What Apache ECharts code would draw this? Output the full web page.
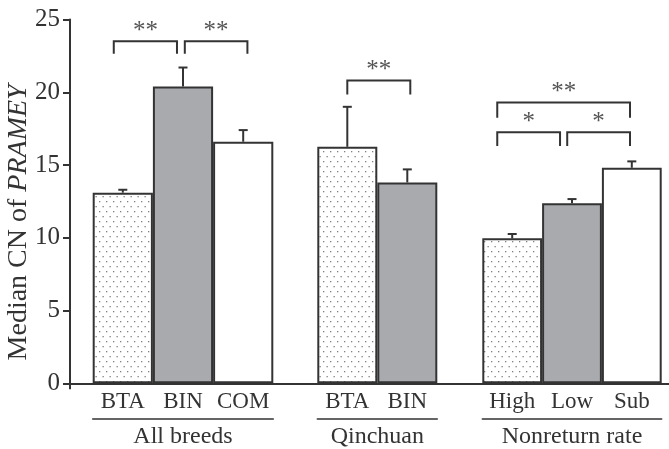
<!DOCTYPE html>
<html>
<head>
<meta charset="utf-8">
<script src="https://cdn.jsdelivr.net/npm/echarts@6/dist/echarts.min.js"></script>
<style>
  html, body { margin: 0; padding: 0; background: #fff; }
  #chart { width: 669px; height: 449px; }
</style>
</head>
<body>
<div id="chart"></div>
<script>
// data
const groupNames = ["All breeds", "Qinchuan", "Nonreturn rate"];
const allCats = ["BTA", "BIN", "COM"];
const allVals = [13.1, 20.4, 16.6];
const allErr = [0.2, 1.3, 0.8];
const qinCats = ["BTA", "BIN"];
const qinVals = [16.25, 13.8];
const qinErr = [2.75, 0.9];
const nrCats = ["High", "Low", "Sub"];
const nrVals = [9.96, 12.38, 14.81];
const nrErr = [0.3, 0.28, 0.44];
const yTicks = [0, 5, 10, 15, 20, 25];
// significance brackets: [from, to, top, legEnd, label] (category positions)
const allBrackets = [[-0.15, 0.9, 23.5, 22.65, "**"], [1.03, 2.07, 23.5, 22.65, "**"]];
const qinBrackets = [[0, 1.05, 20.8, 19.85, "**"]];
const nrBrackets = [
  [-0.25, 1.97, 19.3, 18.25, "**"],
  [-0.25, 0.8, 17.25, 16.3, "*"],
  [0.92, 1.97, 17.25, 16.3, "*"]
];

const serif = "'Liberation Serif', 'DejaVu Serif', serif";
const ink = "#333";

// dotted fill
const dot = document.createElement("canvas");
dot.width = 7;
dot.height = 10;
const g = dot.getContext("2d");
g.fillStyle = "#fff";
g.fillRect(0, 0, 7, 10);
g.fillStyle = "#808080";
g.fillRect(1, 1, 1.3, 1.3);
g.fillRect(4.5, 6, 1.3, 1.3);

const fills = {
  dot: { image: dot, repeat: "repeat" },
  gray: "#a9aaad",
  white: "#fff"
};
const groups = [
  { cats: allCats, vals: allVals, err: allErr, kind: ["dot", "gray", "white"], br: allBrackets, left: 92.7, width: 180.6 },
  { cats: qinCats, vals: qinVals, err: qinErr, kind: ["dot", "gray"], br: qinBrackets, left: 317.3, width: 120 },
  { cats: nrCats, vals: nrVals, err: nrErr, kind: ["dot", "gray", "white"], br: nrBrackets, left: 482.3, width: 179.4 }
];

const gTop = 19.5, gBottom = 65.7;
const grid = [{ left: 70, right: 0, top: gTop, bottom: gBottom, outerBoundsMode: "none", containLabel: false }];
const xAxis = [{
  gridIndex: 0, type: "value", min: 0, max: 1,
  axisLine: { show: true, lineStyle: { color: ink, width: 2 } },
  axisTick: { show: true, customValues: [0], length: 6, lineStyle: { color: ink, width: 2 } },
  axisLabel: { show: false }, splitLine: { show: false }
}];
const yAxis = [{
  gridIndex: 0, type: "value", min: 0, max: 25, interval: 5,
  axisLine: { show: true, lineStyle: { color: ink, width: 2 } },
  axisTick: { show: true, length: 7, lineStyle: { color: ink, width: 2 } },
  axisLabel: { fontFamily: serif, fontSize: 25, color: ink, margin: 10,
    customValues: yTicks },
  splitLine: { show: false },
  name: "Median CN of {i|PRAMEY}",
  nameLocation: "middle", nameRotate: 90, nameGap: 37, nameMoveOverlap: false,
  nameTextStyle: {
    fontFamily: serif, fontSize: 28, color: ink, padding: [0, 42, 0, 0],
    rich: { i: { fontFamily: serif, fontSize: 28, fontStyle: "italic", color: ink } }
  }
}];
const series = [];

groups.forEach((gr, k) => {
  const gi = k + 1;
  grid.push({ left: gr.left, width: gr.width, top: gTop, bottom: gBottom, outerBoundsMode: "none", containLabel: false });
  xAxis.push({
    gridIndex: gi, type: "category", data: gr.cats,
    axisLine: { show: false }, axisTick: { show: false },
    axisLabel: { fontFamily: serif, fontSize: 23, color: ink, margin: 7, interval: 0 }
  });
  yAxis.push({ gridIndex: gi, type: "value", min: 0, max: 25, show: false });

  series.push({
    type: "bar", xAxisIndex: gi, yAxisIndex: gi,
    barCategoryGap: 0,
    data: gr.vals.map((v, i) => ({
      value: v,
      itemStyle: { color: fills[gr.kind[i]], borderColor: ink, borderWidth: 2 }
    })),
    silent: true, animation: false
  });

  series.push({
    type: "custom", xAxisIndex: gi, yAxisIndex: gi,
    data: gr.vals.map((v, i) => [i, v, gr.err[i]]),
    encode: { x: 0, y: 1 },
    z: 3, silent: true, animation: false,
    renderItem: (params, api) => {
      const i = api.value(0), v = api.value(1), e = api.value(2);
      const p0 = api.coord([i, v]);
      const p1 = api.coord([i, v + e]);
      return {
        type: "group",
        children: [
          { type: "line", shape: { x1: p0[0], y1: p0[1], x2: p1[0], y2: p1[1] }, style: { stroke: ink, lineWidth: 2 } },
          { type: "line", shape: { x1: p1[0] - 4.5, y1: p1[1], x2: p1[0] + 4.5, y2: p1[1] }, style: { stroke: ink, lineWidth: 2 } }
        ]
      };
    }
  });

  series.push({
    type: "custom", xAxisIndex: gi, yAxisIndex: gi,
    data: gr.br.map(b => [0, b[2]]),
    encode: { x: 0, y: 1 },
    z: 3, silent: true, animation: false,
    renderItem: (params, api) => {
      const b = gr.br[params.dataIndex];
      const c = api.coord([0, b[2]]);
      const band = api.size([1, 0])[0];
      const x1 = c[0] + b[0] * band;
      const x2 = c[0] + b[1] * band;
      const yT = c[1];
      const yL = api.coord([0, b[3]])[1];
      return {
        type: "group",
        children: [
          { type: "polyline", shape: { points: [[x1, yL], [x1, yT], [x2, yT], [x2, yL]] },
            style: { stroke: ink, lineWidth: 2, fill: null } },
          { type: "text", style: { text: b[4], x: (x1 + x2) / 2, y: yT - 10, align: "center",
            verticalAlign: "middle", font: "25px " + serif, fill: "#555" } }
        ]
      };
    }
  });
});

// group underline + group label
groups.forEach((gr, k) => {
  xAxis.push({
    gridIndex: k + 1, type: "category", data: gr.cats, position: "bottom", offset: 35,
    axisLine: { show: true, lineStyle: { color: ink, width: 1.5 } },
    axisTick: { show: false }, axisLabel: { show: false },
    name: groupNames[k], nameLocation: "middle", nameGap: 6,
    nameTextStyle: { fontFamily: serif, fontSize: 24, color: ink, verticalAlign: "top" }
  });
});

const chart = echarts.init(document.getElementById("chart"), null, { renderer: "canvas" });
chart.setOption({
  animation: false,
  backgroundColor: "#fff",
  grid: grid,
  xAxis: xAxis,
  yAxis: yAxis,
  series: series
});
window.addEventListener("resize", chart.resize);
</script>
</body>
</html>
